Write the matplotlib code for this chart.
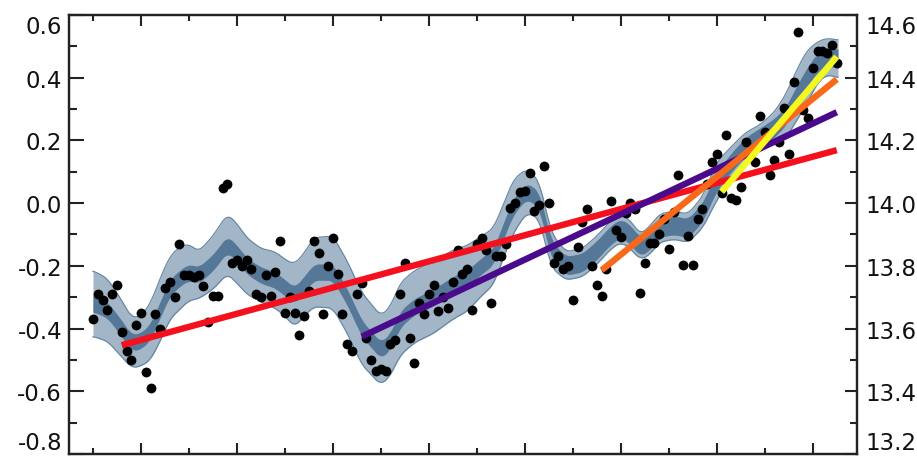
import numpy as np
import matplotlib.pyplot as plt
from matplotlib.ticker import MultipleLocator

# annual anomalies, 1850-2005
years = np.arange(1850, 2006)
anom = [-0.37, -0.29, -0.31, -0.34, -0.29, -0.26, -0.41, -0.47, -0.50, -0.39,
        -0.35, -0.54, -0.59, -0.355, -0.40, -0.27, -0.25, -0.30, -0.13, -0.23,
        -0.23, -0.235, -0.23, -0.265, -0.38, -0.295, -0.295, 0.047, 0.06, -0.19,
        -0.18, -0.20, -0.18, -0.21, -0.29, -0.30, -0.23, -0.295, -0.22, -0.12,
        -0.35, -0.30, -0.35, -0.42, -0.36, -0.28, -0.12, -0.16, -0.355, -0.20,
        -0.11, -0.225, -0.355, -0.45, -0.47, -0.29, -0.255, -0.43, -0.50, -0.535,
        -0.53, -0.535, -0.45, -0.435, -0.29, -0.19, -0.43, -0.51, -0.32, -0.355,
        -0.29, -0.26, -0.345, -0.30, -0.335, -0.25, -0.15, -0.225, -0.21, -0.34,
        -0.13, -0.11, -0.15, -0.32, -0.17, -0.17, -0.13, -0.015, 0.0, 0.036,
        0.038, 0.097, -0.025, -0.006, 0.12, 0.002, -0.19, -0.17, -0.21, -0.20,
        -0.31, -0.14, -0.06, -0.02, -0.20, -0.26, -0.295, -0.21, 0.007, -0.086,
        -0.107, -0.03, 0.002, -0.02, -0.286, -0.19, -0.126, -0.126, -0.10, -0.049,
        -0.147, -0.028, 0.089, -0.198, -0.105, -0.198, -0.05, -0.019, 0.06, 0.132,
        0.158, 0.031, 0.217, 0.015, 0.01, 0.052, 0.196, 0.15, 0.13, 0.279,
        0.228, 0.089, 0.137, 0.194, 0.302, 0.156, 0.387, 0.545, 0.297, 0.27,
        0.43, 0.485, 0.485, 0.48, 0.504, 0.448]

# smoothed curve and its uncertainty bands, read at knots
smooth_yr = [1850, 1853, 1856, 1858, 1860, 1862, 1864, 1866, 1868, 1870,
             1872, 1875, 1878, 1880, 1882, 1885, 1888, 1890, 1892, 1894,
             1896, 1900, 1903, 1906, 1910, 1912, 1914, 1917, 1921, 1925,
             1928, 1931, 1933.5, 1935.5, 1937.6, 1940.4, 1943, 1945.5, 1948.5, 1952,
             1955, 1958, 1960, 1962, 1964, 1966, 1968, 1971, 1974, 1977,
             1980, 1983, 1986, 1989, 1992, 1994.5, 1996.5, 1998.7, 2001, 2003, 2005.3]
smooth_mid = [-0.32, -0.34, -0.40, -0.445, -0.44, -0.41, -0.34, -0.27, -0.24, -0.22,
              -0.23, -0.19, -0.13, -0.16, -0.20, -0.23, -0.245, -0.27, -0.295, -0.26,
              -0.22, -0.22, -0.30, -0.40, -0.47, -0.44, -0.37, -0.33, -0.30, -0.26,
              -0.24, -0.20, -0.17, -0.09, -0.01, 0.04, 0.01, -0.15, -0.20, -0.19,
              -0.15, -0.10, -0.08, -0.10, -0.14, -0.12, -0.08, -0.07, -0.08, -0.03,
              0.07, 0.13, 0.18, 0.21, 0.24, 0.28, 0.34, 0.40, 0.45, 0.468, 0.46]
outer_hw = [0.105, 0.10, 0.09, 0.08, 0.08, 0.09, 0.10, 0.10, 0.10, 0.09,
            0.075, 0.085, 0.095, 0.095, 0.09, 0.085, 0.09, 0.09, 0.10, 0.10,
            0.11, 0.115, 0.115, 0.115, 0.11, 0.11, 0.115, 0.115, 0.115, 0.11,
            0.105, 0.095, 0.09, 0.085, 0.085, 0.07, 0.06, 0.055, 0.045, 0.045,
            0.045, 0.045, 0.045, 0.045, 0.04, 0.045, 0.045, 0.045, 0.045, 0.05,
            0.06, 0.05, 0.045, 0.04, 0.05, 0.07, 0.08, 0.085, 0.065, 0.058, 0.06]
inner_hw = [0.026] * 37 + [0.03] * 24

# linear trends: start year, end year, start value, end value
trend_y0 = [1856, 1906, 1956, 1981]
trend_y1 = [2005, 2005, 2005, 2005]
trend_v0 = [-0.453, -0.426, -0.214, 0.036]
trend_v1 = [0.169, 0.29, 0.395, 0.467]
trend_col = ["#f5101e", "#4a0a8c", "#f86a1a", "#f4f81e"]

left_ticks = [0.6, 0.4, 0.2, 0.0, -0.2, -0.4, -0.6, -0.8]
left_labels = ["0.6", "0.4", "0.2", "0.0", "-0.2", "-0.4", "-0.6", "-0.8"]
right_ticks = [14.6, 14.4, 14.2, 14.0, 13.8, 13.6, 13.4, 13.2]
right_labels = ["14.6", "14.4", "14.2", "14.0", "13.8", "13.6", "13.4", "13.2"]


# round off the corners of the knot polyline when drawing it
def rounded(knots, vals, step=0.25, win=9):
    t = np.arange(knots[0], knots[-1] + 1e-9, step)
    v = np.interp(t, knots, vals)
    pad = win // 2
    vp = np.concatenate([np.full(pad, v[0]), v, np.full(pad, v[-1])])
    return t, np.convolve(vp, np.ones(win) / win, mode="valid")


t, mid = rounded(smooth_yr, smooth_mid)
_, ow = rounded(smooth_yr, outer_hw)
_, iw = rounded(smooth_yr, inner_hw)

fig = plt.figure(figsize=(9.17, 4.6), dpi=100)
ax = fig.add_axes([0.0752, 0.0109, 0.8593, 0.9543])

ax.fill_between(t, mid - ow, mid + ow, color="#a3b6c7", lw=0, zorder=1)
ax.plot(t, mid - ow, color="#6688a6", lw=0.9, zorder=1.5)
ax.plot(t, mid + ow, color="#6688a6", lw=0.9, zorder=1.5)
ax.fill_between(t, mid - iw, mid + iw, color="#557898", lw=0, zorder=2)

ax.scatter(years, anom, s=50, color="black", zorder=3, linewidths=0)

for i in range(4):
    ax.plot([trend_y0[i], trend_y1[i]], [trend_v0[i], trend_v1[i]],
            color=trend_col[i], lw=4.6, solid_capstyle="butt", zorder=4 + i)

ax.set_xlim(1845, 2009.2)
ax.set_ylim(-0.8, 0.6)
ax.set_xticks(range(1860, 2001, 20))
ax.xaxis.set_minor_locator(MultipleLocator(10))
ax.set_xticklabels([])
ax.set_yticks(left_ticks)
ax.set_yticklabels(left_labels, fontsize=16.5, color="#111111")
ax.yaxis.set_minor_locator(MultipleLocator(0.1))
ax.tick_params(axis="x", which="both", direction="in", top=True, bottom=True, color="#222222", width=1.5)
ax.tick_params(axis="x", which="major", length=8)
ax.tick_params(axis="x", which="minor", length=4)
ax.tick_params(axis="y", which="both", direction="in", right=False, color="#222222", width=1.5, pad=5)
ax.tick_params(axis="y", which="major", length=11)
ax.tick_params(axis="y", which="minor", length=6)
for s in ax.spines.values():
    s.set_linewidth(1.6)
    s.set_color("#222222")

ax2 = ax.twinx()
ax2.set_ylim(13.2, 14.6)
ax2.set_yticks(right_ticks)
ax2.set_yticklabels(right_labels, fontsize=16.5, color="#111111")
ax2.yaxis.set_minor_locator(MultipleLocator(0.1))
ax2.tick_params(axis="y", which="both", direction="in", color="#222222", width=1.5, pad=6)
ax2.tick_params(axis="y", which="major", length=9)
ax2.tick_params(axis="y", which="minor", length=5)
for s in ax2.spines.values():
    s.set_linewidth(1.6)
    s.set_color("#222222")

for a in (ax, ax2):
    labs = a.get_yticklabels()
    labs[0].set_va("top")
    labs[-1].set_va("bottom")

fig.savefig("out.png", dpi=100)
